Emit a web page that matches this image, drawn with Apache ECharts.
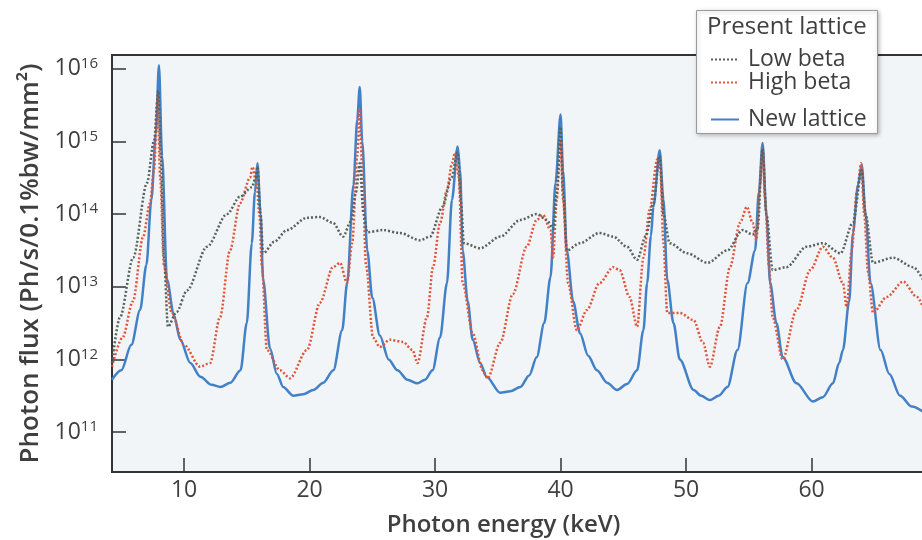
<!DOCTYPE html>
<html><head><meta charset="utf-8">
<script src="https://cdn.jsdelivr.net/npm/echarts@6/dist/echarts.min.js"></script>
<style>html,body{margin:0;padding:0;background:#fff}#c{width:922px;height:540px}</style>
</head><body><div id="c"></div>
<script>
// Values: [photon energy keV, log10(photon flux)]
const newLattice = [[4.26,11.72],[5.0,11.85],[5.8,12.2],[6.5,12.68],[7.0,13.3],[7.4,14.2],[7.75,15.1],[8.0,16.05],[8.25,14.8],[8.64,13.1],[9.2,12.6],[9.7,12.27],[10.5,11.95],[11.3,11.76],[12.2,11.65],[12.9,11.62],[13.7,11.68],[14.5,11.85],[15.0,12.5],[15.4,13.6],[15.65,14.3],[15.85,14.7],[16.1,14.0],[16.3,13.1],[16.85,12.15],[17.4,11.8],[17.9,11.62],[18.7,11.5],[19.5,11.52],[20.3,11.58],[21.1,11.68],[21.9,11.85],[22.6,12.4],[23.0,13.05],[23.5,14.4],[23.8,15.3],[24.0,15.75],[24.2,15.0],[24.6,13.5],[25.0,12.85],[25.6,12.33],[26.3,12.0],[27.0,11.85],[27.8,11.72],[28.6,11.67],[29.2,11.72],[29.8,11.85],[30.4,12.3],[30.95,13.05],[31.35,14.2],[31.8,14.93],[32.0,14.6],[32.2,13.5],[32.6,12.8],[33.0,12.27],[33.6,11.95],[34.1,11.76],[35.2,11.54],[36.0,11.56],[36.8,11.62],[37.5,11.78],[38.1,12.03],[38.7,12.5],[39.2,13.13],[39.6,14.43],[40.0,15.37],[40.2,14.6],[40.5,13.5],[41.0,12.8],[41.55,12.36],[42.2,12.05],[42.9,11.85],[43.7,11.68],[44.5,11.58],[45.3,11.66],[46.1,11.85],[46.6,12.4],[46.9,13.05],[47.2,13.7],[47.4,14.1],[47.9,14.88],[48.2,14.2],[48.5,13.1],[49.0,12.5],[49.5,12.0],[50.6,11.58],[51.2,11.5],[51.9,11.44],[52.6,11.5],[53.3,11.62],[54.1,12.13],[54.9,13.05],[55.5,13.5],[55.8,14.3],[56.1,14.98],[56.4,14.0],[56.7,13.05],[57.2,12.5],[57.7,12.03],[58.8,11.67],[60.1,11.42],[60.9,11.48],[61.7,11.67],[62.2,11.95],[62.5,12.13],[63.0,12.8],[63.3,13.74],[63.7,14.4],[64.0,14.68],[64.3,14.0],[64.7,13.05],[65.5,12.13],[66.2,11.8],[67.05,11.5],[68.0,11.35],[69.04,11.26]];

const lowBeta = [[4.26,11.95],[4.9,12.58],[5.95,13.4],[7.05,14.43],[7.6,15.0],[7.95,15.7],[8.15,14.8],[8.4,13.4],[8.72,12.45],[9.4,12.65],[10.24,12.95],[11.83,13.55],[13.42,14.0],[14.46,14.24],[15.4,14.37],[15.7,14.5],[15.85,14.65],[16.1,14.0],[16.3,13.46],[17.2,13.62],[18.2,13.78],[19.8,13.95],[20.8,13.96],[21.87,13.88],[22.67,13.69],[23.3,13.9],[23.7,14.3],[24.0,14.7],[24.3,14.0],[24.6,13.75],[25.85,13.78],[27.2,13.74],[28.8,13.64],[29.6,13.69],[30.6,14.1],[31.3,14.5],[31.8,14.85],[32.05,14.2],[32.3,13.6],[33.6,13.53],[35.2,13.69],[36.8,13.92],[38.1,14.0],[38.9,13.92],[39.4,13.8],[39.7,14.3],[40.0,15.2],[40.2,14.3],[40.5,13.5],[41.55,13.6],[43.1,13.74],[44.2,13.69],[45.3,13.55],[46.1,13.37],[46.8,13.7],[47.4,14.15],[47.9,14.8],[48.2,14.0],[48.7,13.6],[50.1,13.46],[51.7,13.33],[53.3,13.5],[54.5,13.78],[55.3,13.72],[55.7,13.8],[56.1,14.9],[56.4,14.0],[56.9,13.23],[58.0,13.27],[59.6,13.55],[60.9,13.6],[62.3,13.46],[63.3,13.88],[64.0,14.6],[64.3,14.0],[64.9,13.33],[66.5,13.4],[68.1,13.27],[69.04,13.05]];

const highBeta = [[4.26,11.9],[5.1,12.3],[5.93,12.8],[6.73,13.68],[7.29,14.15],[7.6,14.6],[7.9,15.6],[8.1,14.5],[8.4,13.3],[9.0,12.65],[10.0,12.2],[11.27,11.9],[12.07,11.95],[12.87,12.58],[13.66,13.5],[14.46,14.15],[15.26,14.5],[15.45,14.65],[15.8,14.4],[16.0,14.0],[16.2,13.3],[16.6,12.13],[17.65,11.85],[18.44,11.74],[19.8,12.13],[20.83,12.78],[21.87,13.27],[22.43,13.33],[22.99,13.05],[23.4,13.6],[23.8,14.8],[24.0,15.44],[24.2,14.6],[24.5,13.3],[25.06,12.3],[25.6,12.17],[26.4,12.27],[27.45,12.24],[28.2,12.13],[28.6,11.95],[29.36,12.58],[29.84,13.27],[30.4,13.88],[30.95,14.33],[31.35,14.7],[31.6,14.85],[31.9,14.5],[32.2,13.05],[33.0,12.36],[33.8,11.85],[34.2,11.74],[35.2,12.23],[36.2,12.9],[37.3,13.55],[38.1,13.92],[38.6,13.99],[39.2,13.78],[39.4,13.4],[39.7,14.2],[40.0,15.02],[40.2,14.2],[40.6,13.05],[41.3,12.4],[42.1,12.68],[43.1,13.05],[44.2,13.27],[44.7,13.23],[45.5,12.86],[46.1,12.45],[46.6,13.4],[47.1,14.06],[47.7,14.75],[47.95,14.6],[48.2,13.6],[48.5,12.64],[49.5,12.64],[50.6,12.54],[51.35,12.23],[51.9,11.9],[52.7,12.45],[53.5,13.27],[54.3,13.88],[54.85,14.1],[55.3,13.88],[55.6,13.64],[55.9,14.4],[56.1,14.9],[56.3,14.2],[56.6,13.3],[56.9,12.58],[57.7,12.0],[58.8,12.68],[59.9,13.23],[60.9,13.55],[61.7,13.4],[62.5,13.05],[62.8,12.72],[63.2,13.5],[63.6,14.3],[63.95,14.7],[64.2,14.0],[64.5,13.2],[64.9,12.64],[66.0,12.86],[67.3,13.07],[68.4,12.86],[69.04,12.65]];

const seriesNames = ['Low beta', 'High beta', 'New lattice'];
const legendTitle = 'Present lattice';
const xAxisTitle = 'Photon energy (keV)';
const yAxisTitle = 'Photon flux (Ph/s/0.1%bw/mm²)';
const xRange = [4.26, 69.04];
const yRangeLog = [10.45, 16.19];

const toFlux = pts => pts.map(p => [p[0], Math.pow(10, p[1])]);
const FONT = '"Open Sans", "DejaVu Sans", sans-serif';
const TXT = '#3f3f3f';
const legendText = {fontSize: 23, lineHeight: 23, color: TXT, fontFamily: FONT, padding: [0, 0, 0, 4]};

const chart = echarts.init(document.getElementById('c'), null, {renderer: 'canvas'});
chart.setOption({
  backgroundColor: '#ffffff',
  animation: false,
  textStyle: {fontFamily: FONT},
  title: {
    text: legendTitle, left: 702, top: 10, z: 20,
    textStyle: {fontSize: 24, fontWeight: 500, color: TXT, fontFamily: FONT}
  },
  graphic: [{
    type: 'rect', left: 696, top: 10, z: 10,
    shape: {width: 181, height: 123},
    style: {fill: '#ffffff', stroke: '#9a9a9a', lineWidth: 1,
      shadowBlur: 4, shadowColor: 'rgba(0,0,0,0.25)', shadowOffsetX: 1, shadowOffsetY: 1}
  }],
  legend: [{
    data: [seriesNames[0], seriesNames[1]], orient: 'vertical', left: 705, top: 43, z: 20,
    itemWidth: 28, itemHeight: 14, itemGap: 0,
    itemStyle: {opacity: 0},
    textStyle: legendText
  }, {
    data: [seriesNames[2]], orient: 'vertical', left: 705, top: 103, z: 20,
    itemWidth: 28, itemHeight: 14,
    itemStyle: {opacity: 0},
    textStyle: legendText
  }],
  grid: {
    left: 112, top: 55, right: -3, bottom: 68, containLabel: false, outerBoundsMode: 'none',
    show: true, borderColor: '#333', borderWidth: 2, backgroundColor: '#f2f5f8'
  },
  xAxis: {
    type: 'value', min: xRange[0], max: xRange[1],
    name: xAxisTitle, nameLocation: 'middle', nameGap: 41,
    nameTextStyle: {fontSize: 24, fontWeight: 600, color: TXT, fontFamily: FONT, padding: [0, 30, 0, 0]},
    axisLine: {show: true, lineStyle: {color: '#333', width: 2}},
    axisTick: {show: true, inside: true, length: 14, lineStyle: {color: '#333', width: 1.5}},
    axisLabel: {showMinLabel: false, showMaxLabel: false, margin: 7, fontSize: 23, color: TXT, fontFamily: FONT},
    splitLine: {show: false}
  },
  yAxis: {
    type: 'log', logBase: 10, min: Math.pow(10, yRangeLog[0]), max: Math.pow(10, yRangeLog[1]),
    name: yAxisTitle, nameLocation: 'middle', nameGap: 62,
    nameTextStyle: {fontSize: 26, fontWeight: 600, color: TXT, fontFamily: FONT},
    axisLine: {show: true, lineStyle: {color: '#333', width: 2}},
    axisTick: {show: true, inside: true, length: 14, lineStyle: {color: '#333', width: 1.5}},
    axisLabel: {
      showMinLabel: false, showMaxLabel: false, margin: 14, color: TXT, fontFamily: FONT,
      formatter: v => '{b|10}{s|' + Math.round(Math.log10(v)) + '}',
      rich: {
        b: {fontSize: 23, color: TXT, fontFamily: FONT},
        s: {fontSize: 15, color: TXT, fontFamily: FONT, padding: [0, 0, 10, 0]}
      }
    },
    splitLine: {show: false}
  },
  series: [{
    name: seriesNames[2], type: 'line', symbol: 'none', smooth: 0.3, smoothMonotone: 'x',
    data: toFlux(newLattice), z: 3,
    lineStyle: {color: '#4281c6', width: 2.5}, itemStyle: {color: '#4281c6'}
  }, {
    name: seriesNames[1], type: 'line', symbol: 'none', smooth: 0.3, smoothMonotone: 'x',
    data: toFlux(highBeta), z: 4,
    lineStyle: {color: '#e0553a', width: 2.5, type: [2, 2]}, itemStyle: {color: '#e0553a'}
  }, {
    name: seriesNames[0], type: 'line', symbol: 'none', smooth: 0.3, smoothMonotone: 'x',
    data: toFlux(lowBeta), z: 5,
    lineStyle: {color: '#56625a', width: 2.5, type: [2, 2]}, itemStyle: {color: '#56625a'}
  }]
});
</script>
</body></html>
